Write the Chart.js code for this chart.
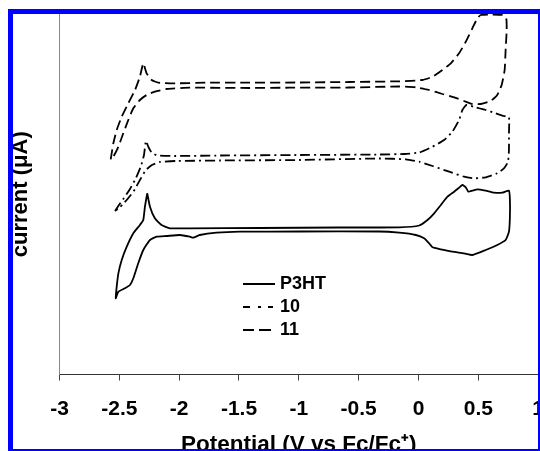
<!DOCTYPE html>
<html>
<head>
<meta charset="utf-8">
<script src="https://cdn.jsdelivr.net/npm/chart.js@4.4.1/dist/chart.umd.min.js"></script>
<style>
    html, body { margin: 0; padding: 0; background: #fff; }
    #wrap { position: relative; width: 540px; height: 451px; overflow: hidden; background: #fff; }
    #myChart { position: absolute; left: 0; top: 0; }
    #frame { position: absolute; left: 8px; top: 9px; width: 532px; height: 442px; box-sizing: border-box;
             border: solid #0000ff; border-width: 5px 2px 2px 5px; pointer-events: none; }
    #legend { position: absolute; left: 243px; top: 272px; font: bold 18px "Liberation Sans", Arial, sans-serif; color: #000; }
    #legend .row { height: 23px; display: flex; align-items: center; }
    #legend svg { margin-right: 5px; }
</style>
</head>
<body>
<div id="wrap">
    <canvas id="myChart" width="560" height="470"></canvas>
    <div id="legend"></div>
    <div id="frame"></div>
</div>
<script>
// 曲線名稱
var seriesNames = ['P3HT', '10', '11'];

// x 軸刻度 (V vs Fc/Fc+)
var xTickValues = [-3, -2.5, -2, -1.5, -1, -0.5, 0, 0.5, 1];
var xTickLabels = ['-3', '-2.5', '-2', '-1.5', '-1', '-0.5', '0', '0.5', '1'];

// P3HT (實線)
var p3htX = [-2.267, -2.244, -2.203, -2.147, -2.078, -1.911, -1.328, -0.661, -0.161, 0.006, 0.075, 0.131, 0.187, 0.242, 0.298, 0.333, 0.367, 0.395, 0.417, 0.450, 0.492, 0.562, 0.631, 0.700, 0.756, 0.764, 0.764, 0.756, 0.728, 0.658, 0.562, 0.450, 0.381, 0.283, 0.187, 0.117, 0.089, 0.047, -0.022, -0.161, -0.328, -0.994, -1.494, -1.688, -1.828, -1.883, -1.911, -1.994, -2.105, -2.188, -2.244, -2.300, -2.342, -2.383, -2.411, -2.453, -2.508, -2.530, -2.522, -2.508, -2.480, -2.438, -2.383, -2.328, -2.300, -2.286, -2.267];
var p3htY = [18.12, 16.78, 15.62, 14.95, 14.62, 14.62, 14.65, 14.7, 14.72, 14.9, 15.45, 16.12, 16.95, 17.78, 18.28, 18.62, 18.95, 18.72, 18.28, 18.38, 18.52, 18.38, 18.18, 18.18, 18.38, 17.45, 15.78, 14.28, 13.45, 12.95, 12.45, 11.95, 12.12, 12.28, 12.52, 12.72, 13.12, 13.62, 13.95, 14.18, 14.3, 14.3, 14.28, 14.18, 13.95, 13.68, 13.78, 13.95, 13.85, 13.78, 13.45, 12.45, 11.12, 9.62, 8.95, 8.62, 8.28, 7.62, 8.78, 10.12, 11.45, 12.78, 14.12, 14.95, 15.45, 16.78, 18.12];

// 10 (點劃線)
var cmp10X = [-2.536, -2.503, -2.461, -2.411, -2.361, -2.319, -2.294, -2.278, -2.257, -2.228, -2.178, -2.028, -1.661, -0.994, -0.328, -0.119, 0.006, 0.117, 0.214, 0.283, 0.339, 0.367, 0.400, 0.478, 0.562, 0.645, 0.714, 0.756, 0.756, 0.756, 0.750, 0.742, 0.714, 0.658, 0.562, 0.464, 0.381, 0.256, 0.117, 0.006, -0.105, -0.328, -0.994, -1.661, -2.028, -2.161, -2.228, -2.278, -2.328, -2.369, -2.411, -2.461, -2.503, -2.536];
var cmp10Y = [16.35, 16.95, 17.65, 18.55, 19.65, 20.85, 21.95, 23.35, 22.75, 22.15, 21.9, 21.85, 21.9, 21.95, 22.0, 22.05, 22.2, 22.78, 23.45, 24.28, 25.45, 26.45, 26.95, 26.72, 26.45, 26.12, 25.85, 25.72, 24.12, 22.45, 21.45, 21.12, 20.62, 20.12, 19.72, 19.62, 19.78, 20.28, 20.85, 21.28, 21.52, 21.6, 21.45, 21.4, 21.35, 21.25, 20.95, 20.45, 19.45, 18.55, 17.85, 17.15, 16.65, 16.35];

// 11 (虛線)
var cmp11X = [-2.572, -2.550, -2.522, -2.480, -2.425, -2.369, -2.328, -2.300, -2.272, -2.230, -2.175, -2.022, -1.772, -1.411, -0.994, -0.578, -0.161, 0.033, 0.117, 0.200, 0.270, 0.339, 0.395, 0.450, 0.492, 0.520, 0.617, 0.700, 0.733, 0.737, 0.728, 0.720, 0.695, 0.658, 0.603, 0.520, 0.450, 0.381, 0.298, 0.200, 0.089, -0.022, -0.161, -0.578, -1.078, -1.411, -1.911, -2.105, -2.203, -2.272, -2.328, -2.383, -2.425, -2.467, -2.508, -2.550, -2.572];
var cmp11Y = [21.52, 23.12, 24.45, 25.78, 27.12, 28.45, 29.78, 31.12, 30.12, 29.45, 29.18, 29.12, 29.18, 29.18, 29.2, 29.25, 29.32, 29.45, 29.78, 30.45, 31.12, 32.12, 33.28, 34.62, 35.62, 35.95, 36.0, 35.95, 35.62, 34.45, 32.45, 30.45, 28.95, 27.95, 27.35, 27.05, 27.05, 27.35, 27.72, 28.05, 28.45, 28.72, 28.8, 28.7, 28.68, 28.65, 28.68, 28.55, 28.28, 27.95, 27.45, 26.62, 25.45, 24.12, 22.78, 21.78, 21.52];

var fontFamily = '"Liberation Sans", Arial, sans-serif';

function toPoints(xs, ys) {
    return xs.map(function (x, i) { return { x: x, y: ys[i] }; });
}

function makeSet(name, xs, ys, dash, legendDash) {
    return {
        label: name,
        data: toPoints(xs, ys),
        showLine: true,
        borderColor: '#000',
        borderWidth: 1.8,
        borderDash: dash,
        legendDash: legendDash,
        pointRadius: 0,
        tension: 0.15,
        fill: false
    };
}

//產生圖表
var ctx01 = document.getElementById('myChart');
var chart01 = new Chart(ctx01, {
    type: 'scatter',
    data: {
        datasets: [
            makeSet(seriesNames[0], p3htX, p3htY, [], []),
            makeSet(seriesNames[1], cmp10X, cmp10Y, [10, 4, 2, 4], [7, 8, 3, 7, 5]),
            makeSet(seriesNames[2], cmp11X, cmp11Y, [10, 5], [11, 5, 12])
        ]
    },
    options: {
        responsive: false,
        animation: false,
        layout: { padding: { left: 4, top: 14, right: 20.5, bottom: 0 } },
        plugins: {
            legend: { display: false },
            tooltip: { enabled: false }
        },
        scales: {
            x: {
                type: 'linear',
                min: xTickValues[0],
                max: xTickValues[xTickValues.length - 1],
                afterBuildTicks: function (scale) {
                    scale.ticks = xTickValues.map(function (v) { return { value: v }; });
                },
                afterFit: function (scale) { scale.height = 470 - 374.5; },
                ticks: {
                    color: '#000',
                    padding: 16,
                    maxRotation: 0,
                    autoSkip: false,
                    font: { family: fontFamily, size: 21, weight: 'bold' },
                    callback: function (value) {
                        var i = xTickValues.indexOf(value);
                        return i >= 0 ? xTickLabels[i] : '';
                    }
                },
                grid: { display: true, drawOnChartArea: false, drawTicks: true, tickLength: 6, color: '#444' },
                border: { display: true, color: '#333', width: 1 },
                title: {
                    display: true,
                    text: 'Potential (V vs Fc/Fc\u207A)',
                    color: '#000',
                    font: { family: fontFamily, size: 22.5, weight: 'bold' },
                    padding: { top: 0, bottom: 12 }
                }
            },
            y: {
                min: 0,
                max: 36.05,
                afterFit: function (scale) { scale.width = 55.5; },
                ticks: { display: false },
                grid: { display: false },
                border: { display: true, color: '#888', width: 1 },
                title: {
                    display: true,
                    text: 'current (\u03BCA)',
                    color: '#000',
                    font: { family: fontFamily, size: 22, weight: 'bold' },
                    padding: { top: 4, bottom: 4 }
                }
            }
        }
    }
});

//圖例
var legendBox = document.getElementById('legend');
chart01.data.datasets.forEach(function (ds) {
    var row = document.createElement('div');
    row.className = 'row';
    var dash = ds.legendDash.length ? ' stroke-dasharray="' + ds.legendDash.join(',') + '"' : '';
    row.innerHTML = '<svg width="32" height="4"><line x1="0" y1="2" x2="32" y2="2" stroke="#000" stroke-width="2"' + dash + '/></svg>' +
        '<span>' + ds.label + '</span>';
    legendBox.appendChild(row);
});
</script>
</body>
</html>
